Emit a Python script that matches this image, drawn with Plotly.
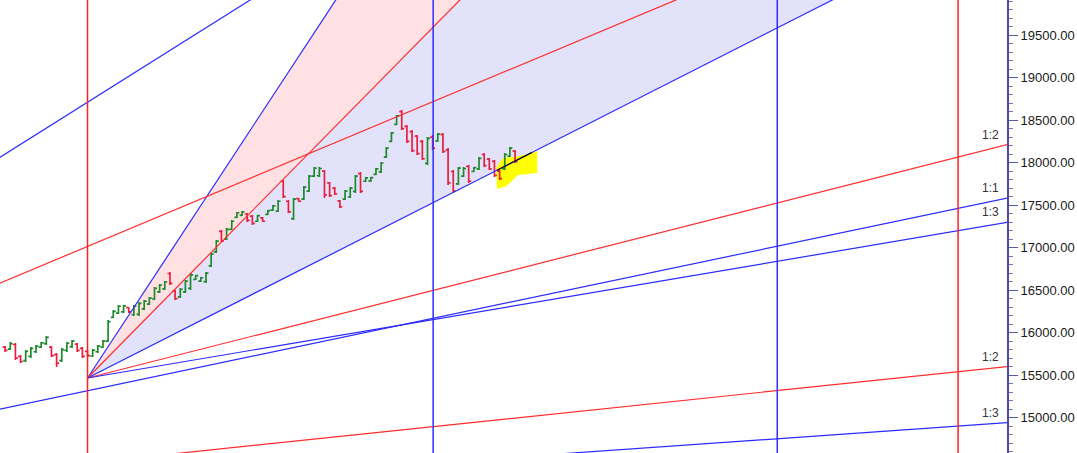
import plotly.graph_objects as go

# ---------------- data ----------------
bar_index = list(range(100))
opens = [15830, 15805, 15860, 15720, 15670, 15720, 15775, 15830, 15870, 15830,
         15740, 15670, 15790, 15835, 15865, 15815, 15780, 15725, 15775, 15830,
         15900, 16180, 16230, 16245, 16295, 16210, 16215, 16280, 16335, 16395,
         16480, 16515, 16695, 16490, 16420, 16480, 16520, 16625, 16605, 16600,
         16785, 16950, 17190, 17100, 17215, 17355, 17380, 17395, 17370, 17310,
         17350, 17390, 17440, 17430, 17780, 17545, 17340, 17575, 17570, 17665,
         17840, 17845, 17900, 17760, 17700, 17550, 17570, 17595, 17660, 17870,
         17780, 17785, 17860, 17890, 18065, 18250, 18450, 18600, 18425, 18365,
         18310, 18250, 17990, 18300, 18255, 18330, 18150, 17895, 17750, 17840,
         17955, 17895, 17925, 18095, 18040, 18015, 17900, 17925, 18075, 18135]
highs = [15843, 15890, 15878, 15737, 15796, 15831, 15854, 15890, 15960, 15843,
         15760, 15820, 15890, 15913, 15878, 15831, 15796, 15808, 15854, 15913,
         16148, 16266, 16325, 16325, 16302, 16325, 16360, 16384, 16419, 16537,
         16572, 16607, 16713, 16501, 16525, 16619, 16701, 16678, 16654, 16713,
         16937, 17089, 17207, 17230, 17324, 17418, 17430, 17407, 17383, 17383,
         17360, 17442, 17501, 17560, 17795, 17560, 17583, 17583, 17724, 17854,
         17948, 17948, 17912, 17771, 17713, 17560, 17677, 17713, 17854, 17889,
         17830, 17830, 17936, 18007, 18183, 18360, 18559, 18618, 18442, 18383,
         18324, 18265, 18300, 18324, 18347, 18347, 18171, 17912, 17948, 17948,
         17971, 17948, 18066, 18112, 18054, 18030, 17912, 18112, 18183, 18148]
lows = [15772, 15796, 15678, 15643, 15655, 15702, 15760, 15820, 15854, 15713,
        15596, 15655, 15772, 15820, 15772, 15702, 15713, 15713, 15760, 15820,
        15890, 16172, 16219, 16231, 16231, 16196, 16196, 16266, 16325, 16384,
        16466, 16501, 16560, 16384, 16407, 16466, 16501, 16619, 16596, 16584,
        16772, 16937, 17066, 17089, 17207, 17348, 17371, 17301, 17266, 17301,
        17301, 17383, 17430, 17418, 17583, 17407, 17324, 17536, 17560, 17654,
        17830, 17830, 17583, 17595, 17618, 17466, 17560, 17583, 17642, 17642,
        17771, 17771, 17854, 17877, 18054, 18242, 18442, 18383, 18230, 18124,
        18089, 18030, 17971, 18148, 18242, 18112, 17736, 17642, 17736, 17830,
        17760, 17889, 17912, 17948, 17912, 17830, 17795, 17912, 18066, 17995]
closes = [15790, 15870, 15700, 15660, 15780, 15815, 15840, 15880, 15945, 15730,
          15640, 15800, 15875, 15900, 15790, 15720, 15730, 15795, 15840, 15900,
          16130, 16250, 16310, 16315, 16245, 16310, 16345, 16370, 16405, 16520,
          16560, 16595, 16580, 16400, 16510, 16605, 16680, 16670, 16645, 16700,
          16925, 17075, 17080, 17215, 17310, 17410, 17420, 17320, 17285, 17375,
          17310, 17435, 17490, 17545, 17600, 17420, 17570, 17545, 17710, 17840,
          17935, 17930, 17620, 17610, 17630, 17480, 17665, 17700, 17840, 17660,
          17820, 17822, 17925, 17995, 18170, 18350, 18548, 18400, 18250, 18140,
          18105, 18045, 18285, 18170, 18335, 18130, 17760, 17665, 17935, 17930,
          17780, 17940, 18050, 17965, 17925, 17850, 17810, 18095, 18170, 18010]

# Gann fans: pivot bar, pivot price, price-per-bar unit
fan1_pivot = (16, 15466)
fan1_unit = 30.75
fan2_pivot = (-117.7, 13620)
fan2_unit = 12.69
fan_ratios = [3, 2, 1, 1 / 2, 1 / 3]
fan_names = ["3:1", "2:1", "1:1", "1:2", "1:3"]
fan_colors = ["#2B2BFF", "#FF2B2B", "#2B2BFF", "#FF2B2B", "#2B2BFF"]

# time cycle verticals (bar index) and colours
cycle_bars = [16, 83.1, 149.9, 185.0]
cycle_colors = ["#FF2020", "#2E2EFF", "#2E2EFF", "#FF2020"]

# highlighter mark
hl_x = [95.3, 96.7, 100.0, 103.3, 103.3, 99.6, 97.3, 95.5]
hl_y = [17936, 18054, 18077, 18136, 17877, 17854, 17724, 17689]
hl_seg_x = [95.5, 102.3]

y_ticks = [15000, 15500, 16000, 16500, 17000, 17500, 18000, 18500, 19000, 19500]

X_MIN, X_MAX = -0.99, 194.5
Y_MIN, Y_MAX = 14584, 19912


def fan_val(pivot, unit, ratio, x):
    return pivot[1] + ratio * unit * (x - pivot[0])


def poly_path(xs, ys):
    pts = [f"{x},{y}" for x, y in zip(xs, ys)]
    return "M " + " L ".join(pts) + " Z"


fig = go.Figure()
shapes = []

# fills of the first fan (below the bars)
fill_specs = [(0, 1, "#FFE1E3"), (1, 2, "#E2E2FA")]
for a, b, col in fill_specs:
    px0, py0 = fan1_pivot
    xe = 260
    xs = [px0, xe, xe]
    ys = [py0, fan_val(fan1_pivot, fan1_unit, fan_ratios[a], xe),
          fan_val(fan1_pivot, fan1_unit, fan_ratios[b], xe)]
    shapes.append(dict(type="path", xref="x", yref="y", path=poly_path(xs, ys),
                       fillcolor=col, line=dict(width=0), layer="below"))

# highlighter (below the bars)
shapes.append(dict(type="path", xref="x", yref="y", path=poly_path(hl_x, hl_y),
                   fillcolor="#FFFF00", line=dict(width=0), layer="below"))

# OHLC bars
fig.add_trace(go.Ohlc(
    x=bar_index, open=opens, high=highs, low=lows, close=closes,
    increasing=dict(line=dict(color="#1F8A2A", width=1.7)),
    decreasing=dict(line=dict(color="#E8203F", width=1.7)),
    tickwidth=0.48, showlegend=False, hoverinfo="skip"))

# fan lines
annotations = []
for pivot, unit in [(fan1_pivot, fan1_unit), (fan2_pivot, fan2_unit)]:
    for r, name, col in zip(fan_ratios, fan_names, fan_colors):
        xs = [pivot[0], 260]
        ys = [pivot[1], fan_val(pivot, unit, r, 260)]
        fig.add_trace(go.Scatter(x=xs, y=ys, mode="lines",
                                 line=dict(color=col, width=1.2),
                                 hoverinfo="skip", showlegend=False))
        yend = fan_val(pivot, unit, r, X_MAX)
        if Y_MIN < yend < Y_MAX:
            annotations.append(dict(x=X_MAX, y=yend, xref="x", yref="y",
                                    text=name, showarrow=False,
                                    xanchor="right", yanchor="bottom",
                                    xshift=-6, yshift=1,
                                    font=dict(family="Liberation Sans, Arial",
                                              size=12, color="#333333")))

# black part of the 1:1 line under the highlighter
fig.add_trace(go.Scatter(
    x=hl_seg_x,
    y=[fan_val(fan1_pivot, fan1_unit, 1, v) for v in hl_seg_x],
    mode="lines", line=dict(color="#101010", width=1.2),
    hoverinfo="skip", showlegend=False))

for xb, col in zip(cycle_bars, cycle_colors):
    shapes.append(dict(type="line", xref="x", yref="paper", x0=xb, x1=xb,
                       y0=0, y1=1, line=dict(color=col, width=1.5),
                       layer="above"))

fig.update_layout(
    width=1077, height=453,
    margin=dict(l=0, r=70, t=0, b=0, autoexpand=False),
    paper_bgcolor="white", plot_bgcolor="white",
    shapes=shapes, annotations=annotations,
    showlegend=False,
    xaxis=dict(range=[X_MIN, X_MAX], visible=False,
               rangeslider=dict(visible=False), fixedrange=True),
    yaxis=dict(side="right", range=[Y_MIN, Y_MAX],
               tickmode="array", tickvals=y_ticks,
               ticktext=[f"{v:.2f}" for v in y_ticks],
               ticks="outside", ticklen=9, tickwidth=1, tickcolor="#5A5AA0",
               showline=True, linecolor="#4A4AA8", linewidth=2,
               showgrid=False, zeroline=False,
               minor=dict(tickmode="linear", tick0=0, dtick=100,
                          ticks="outside", ticklen=4, tickcolor="#7A7AB0",
                          showgrid=False),
               tickfont=dict(family="Liberation Sans, Arial", size=13,
                             color="#1A1A1A")),
)

fig.write_html("out.html",
               config={"displayModeBar": False},
               post_script="document.body.style.margin='0px';"
                           "document.body.style.overflow='hidden';")
